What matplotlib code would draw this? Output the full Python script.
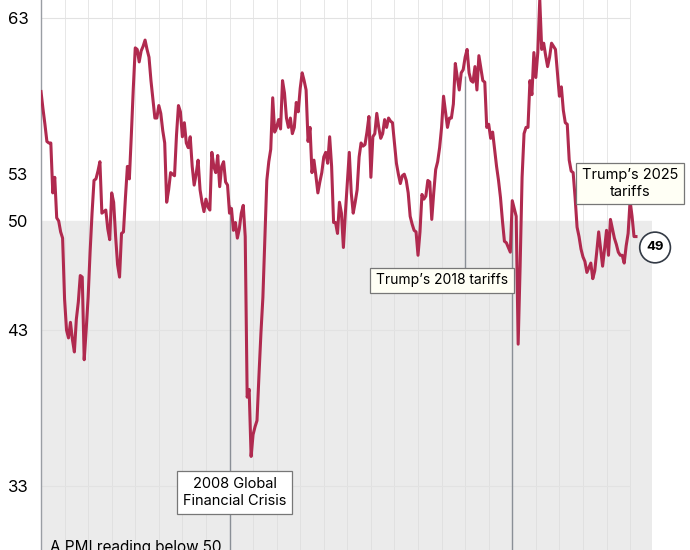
import numpy as np
import matplotlib
matplotlib.use("Agg")
import matplotlib.pyplot as plt

# Manufacturing PMI, monthly from Jan 2000
pmi_2000 = [58.3, 57.2, 56.2, 55.1, 55.0, 55.0, 51.8, 52.8, 50.2, 50.0, 49.3, 48.9]
pmi_2001 = [45.0, 43.0, 42.5, 43.5, 42.4, 41.6, 43.7, 44.8, 46.5, 46.4, 41.1, 43.0]
pmi_2002 = [45.1, 48.0, 50.5, 52.6, 52.7, 53.2, 53.8, 50.5, 50.6, 50.7, 49.5, 48.8]
pmi_2003 = [51.8, 51.2, 49.0, 47.2, 46.4, 49.2, 49.3, 51.5, 53.5, 52.7, 55.5, 58.5]
pmi_2004 = [61.1, 61.0, 60.2, 60.9, 61.2, 61.6, 61.0, 60.5, 59.0, 57.8, 56.6, 56.6]
pmi_2005 = [57.4, 56.9, 55.8, 55.0, 51.2, 52.0, 53.1, 53.0, 52.9, 55.5, 57.4, 57.0]
pmi_2006 = [55.4, 56.3, 55.0, 54.7, 55.4, 53.5, 52.3, 53.0, 53.9, 52.0, 51.2, 50.6]
pmi_2007 = [51.4, 50.9, 50.7, 54.4, 53.5, 53.1, 54.2, 52.2, 53.5, 53.8, 52.5, 52.3]
pmi_2008 = [50.5, 50.8, 49.4, 49.9, 48.9, 49.5, 50.5, 51.0, 49.0, 38.7, 39.2, 34.9]
pmi_2009 = [36.3, 36.8, 37.2, 40.1, 42.8, 45.1, 48.9, 52.6, 53.8, 54.6, 57.9, 55.7]
pmi_2010 = [56.0, 56.5, 55.9, 59.0, 58.2, 56.6, 56.0, 56.6, 55.6, 56.0, 57.6, 57.0]
pmi_2011 = [58.5, 59.5, 59.0, 58.4, 55.1, 56.0, 53.1, 53.9, 52.9, 51.8, 52.5, 53.1]
pmi_2012 = [54.1, 54.4, 53.7, 55.4, 53.5, 49.9, 49.9, 49.2, 51.2, 50.5, 48.3, 50.5]
pmi_2013 = [52.5, 54.4, 51.8, 50.5, 51.2, 52.0, 54.1, 55.0, 54.8, 54.9, 55.7, 56.7]
pmi_2014 = [52.8, 55.4, 55.6, 56.9, 56.0, 55.3, 55.6, 56.5, 56.0, 56.6, 56.4, 56.3]
pmi_2015 = [55.0, 53.7, 53.0, 52.4, 52.9, 53.0, 52.6, 51.8, 50.3, 49.8, 49.4, 49.3]
pmi_2016 = [47.8, 49.3, 51.7, 51.4, 51.6, 52.6, 52.5, 50.1, 51.8, 53.3, 53.8, 54.7]
pmi_2017 = [56.0, 58.0, 57.0, 56.0, 56.6, 56.6, 57.5, 60.1, 59.2, 58.4, 59.5, 59.7]
pmi_2018 = [60.5, 61.0, 59.5, 59.0, 58.9, 59.9, 58.4, 60.6, 59.8, 59.0, 58.9, 56.0]
pmi_2019 = [56.2, 55.3, 55.7, 54.6, 53.5, 52.6, 51.5, 50.0, 48.7, 48.6, 48.3, 48.0]
pmi_2020 = [51.3, 50.8, 50.3, 42.1, 47.1, 52.8, 55.6, 56.0, 56.0, 59.0, 58.1, 60.8]
pmi_2021 = [59.2, 60.8, 64.2, 61.0, 61.4, 60.6, 59.9, 60.5, 61.4, 61.2, 61.0, 59.5]
pmi_2022 = [58.0, 58.6, 57.1, 56.3, 56.2, 53.9, 53.2, 53.1, 51.5, 49.6, 49.0, 48.2]
pmi_2023 = [47.7, 47.4, 46.7, 47.0, 47.3, 46.3, 46.8, 48.0, 49.3, 48.2, 47.1, 48.2]
pmi_2024 = [49.4, 47.8, 50.1, 49.5, 48.9, 48.5, 48.0, 47.8, 47.8, 47.3, 48.4, 49.2]
pmi_2025 = [51.3, 50.3, 49.0, 49.0]

pmi = np.array(pmi_2000 + pmi_2001 + pmi_2002 + pmi_2003 + pmi_2004 + pmi_2005
               + pmi_2006 + pmi_2007 + pmi_2008 + pmi_2009 + pmi_2010 + pmi_2011
               + pmi_2012 + pmi_2013 + pmi_2014 + pmi_2015 + pmi_2016 + pmi_2017
               + pmi_2018 + pmi_2019 + pmi_2020 + pmi_2021 + pmi_2022 + pmi_2023
               + pmi_2024 + pmi_2025)
dates = 2000 + np.arange(len(pmi)) / 12

y_ticks = [33, 43, 50, 53, 63]

plt.rcParams["font.family"] = "Inter"
fig = plt.figure(figsize=(6.9, 5.5), dpi=100)
ax = fig.add_axes([41 / 690, 0, 611 / 690, 1])
x0, x1 = 2000, 2025.93
ax.set_xlim(x0, x1)
ax.set_ylim(28.9, 64.17)

# shaded contraction zone and grid
ax.axhspan(28.9, 50, color="#ebebeb", zorder=0)
for yr in range(2001, 2026):
    ax.axvline(yr, color="#dcdcdc", lw=0.7, alpha=0.7, zorder=1)
for t in [33, 43, 63]:
    ax.hlines(t, x0, 2025, color="#e2e2e2", lw=0.8, zorder=1)

# event lines
ax.vlines(2008, 28.9, 51.0, color="#8a8f96", lw=1.0, zorder=2)
ax.vlines(2018, 46.2, 59.3, color="#8a8f96", lw=1.0, zorder=2)
ax.vlines(2020, 28.9, 51.3, color="#8a8f96", lw=1.0, zorder=2)

ax.plot(dates, pmi, color="#b02a4f", lw=2.2, zorder=3, solid_joinstyle="round")

box = dict(boxstyle="square,pad=0.4", fc="white", ec="#777777", lw=0.9)
ax.text(2008.23, 32.6, "2008 Global\nFinancial Crisis", ha="center", va="center",
        fontsize=10.5, bbox=box, zorder=5, linespacing=1.3)
ax.text(2017.02, 46.2, "Trump\u2019s 2018 tariffs", ha="center", va="center",
        fontsize=10, bbox=dict(box, fc="#fffff5"), zorder=5)
ax.text(2025.0, 52.4, "Trump\u2019s 2025\ntariffs", ha="center", va="center",
        fontsize=10.5, bbox=dict(box, fc="#fffff5"), zorder=5, linespacing=1.2)
ax.text(2026.06, 48.3, "49", ha="center", va="center", fontsize=9.5, fontweight="bold",
        bbox=dict(boxstyle="circle,pad=0.5", fc="white", ec="#333a45", lw=1.2),
        zorder=6, clip_on=False)

ax.set_yticks(y_ticks)
ax.set_yticklabels([str(t) for t in y_ticks], fontsize=12)
ax.tick_params(axis="y", length=0, pad=9)
ax.set_xticks([])
for s in ["top", "right", "bottom"]:
    ax.spines[s].set_visible(False)
ax.spines["left"].set_color("#9a9ea4")
ax.spines["left"].set_linewidth(1.0)

# note runs off the bottom edge, as in the reference
fig.text(50 / 690, 1 - 540 / 550, "A PMI reading below 50", fontsize=11, va="top")

fig.savefig("out.png", dpi=100)
